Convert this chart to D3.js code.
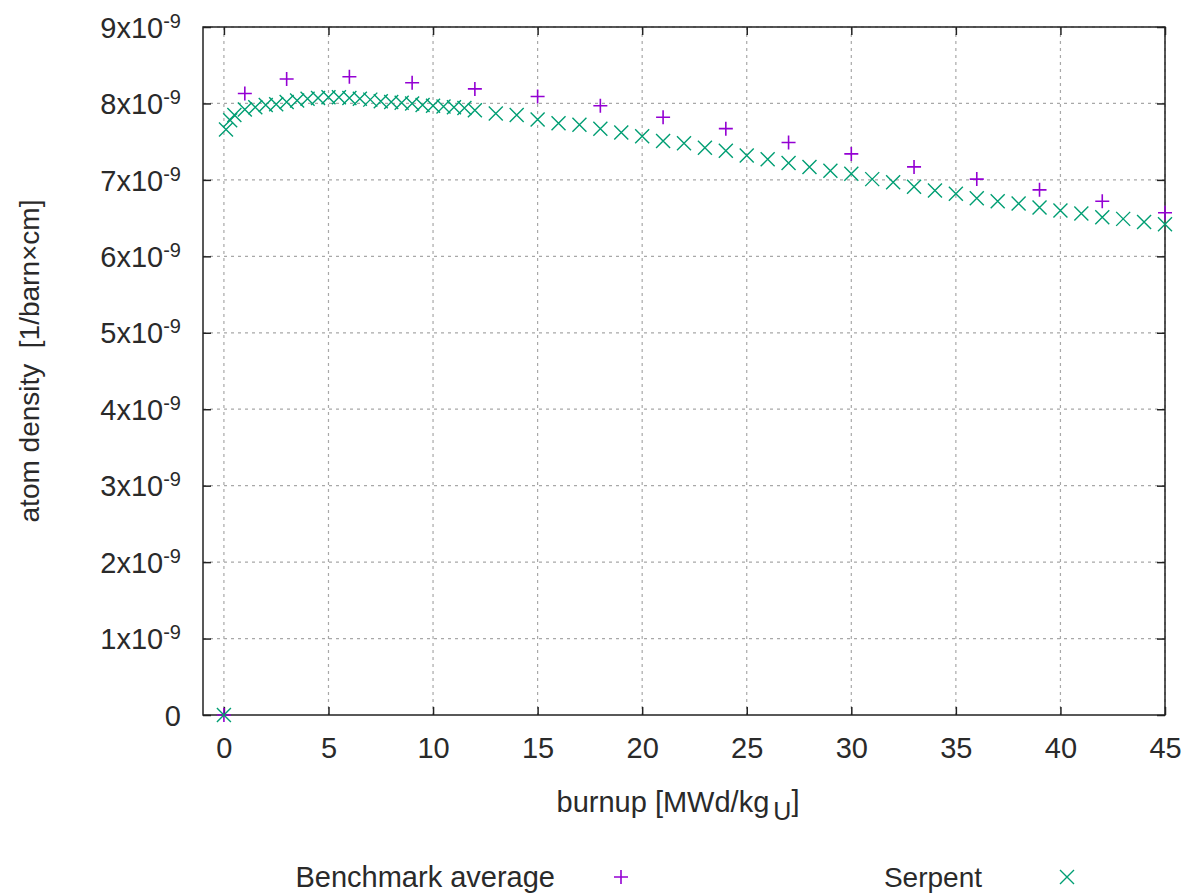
<!DOCTYPE html>
<html>
<head>
<meta charset="utf-8">
<script src="https://cdn.jsdelivr.net/npm/d3@7/dist/d3.min.js"></script>
<style>
  body { margin: 0; background: #fff; }
  text { font-family: "Liberation Sans", Arial, sans-serif; fill: #2a2a2a; }
</style>
</head>
<body>
<div id="chart"></div>
<script>
// benchmark average (x in MWd/kgU, y in 1e-9 1/barn cm)
var benchX = [0, 1, 3, 6, 9, 12, 15, 18, 21, 24, 27, 30, 33, 36, 39, 42, 45];
var benchY = [0, 8.13, 8.32, 8.35, 8.27, 8.19, 8.09, 7.97, 7.82, 7.67, 7.49, 7.34, 7.17, 7.01, 6.87, 6.72, 6.57];

// serpent
var serpX = [0, 0.1, 0.3, 0.5, 1, 1.5, 2, 2.5, 3, 3.5, 4, 4.5, 5, 5.5, 6, 6.5, 7, 7.5, 8, 8.5,
  9, 9.5, 10, 10.5, 11, 11.5, 12, 13, 14, 15, 16, 17, 18, 19, 20, 21, 22, 23, 24, 25, 26, 27,
  28, 29, 30, 31, 32, 33, 34, 35, 36, 37, 38, 39, 40, 41, 42, 43, 44, 45];
var serpY = [0, 7.66, 7.78, 7.85, 7.92, 7.95, 7.98, 7.99, 8.02, 8.04, 8.06, 8.07, 8.08, 8.08, 8.07, 8.06,
  8.05, 8.03, 8.02, 8.01, 8.00, 7.98, 7.97, 7.96, 7.95, 7.94, 7.91, 7.87, 7.85, 7.79, 7.74, 7.72,
  7.67, 7.62, 7.57, 7.51, 7.48, 7.42, 7.38, 7.32, 7.27, 7.22, 7.17, 7.12, 7.08, 7.01, 6.97, 6.91,
  6.86, 6.82, 6.76, 6.72, 6.69, 6.64, 6.60, 6.56, 6.51, 6.49, 6.45, 6.42];

var xTicks = [0, 5, 10, 15, 20, 25, 30, 35, 40, 45];
var yTicks = [0, 1, 2, 3, 4, 5, 6, 7, 8, 9];

var W = 1183, H = 894;
var mLeft = 203, mRight = 1165, mTop = 27, mBottom = 715;
var fs = "29px";

var x = d3.scaleLinear().domain([-1, 45]).range([mLeft, mRight]);
var y = d3.scaleLinear().domain([0, 9]).range([mBottom, mTop]);

var svg = d3.select("#chart").append("svg")
    .attr("width", W)
    .attr("height", H);

// grid
var grid = svg.append("g").attr("stroke", "#a8a8a8").attr("stroke-dasharray", "3,4").attr("stroke-width", 1.2);
xTicks.forEach(function(t) {
  grid.append("line").attr("x1", x(t)).attr("x2", x(t)).attr("y1", mTop).attr("y2", mBottom);
});
yTicks.slice(1).forEach(function(t) {
  grid.append("line").attr("x1", mLeft).attr("x2", mRight).attr("y1", y(t)).attr("y2", y(t));
});

// axes (inward ticks on all sides)
svg.append("g")
    .attr("transform", "translate(0," + mBottom + ")")
    .call(d3.axisBottom(x).tickValues(xTicks).tickSize(-8).tickPadding(22))
    .call(function(g) { g.select(".domain").remove(); });
svg.append("g")
    .attr("transform", "translate(0," + mTop + ")")
    .call(d3.axisTop(x).tickValues(xTicks).tickSize(-8).tickFormat(""))
    .call(function(g) { g.select(".domain").remove(); });
var yAxis = svg.append("g")
    .attr("transform", "translate(" + mLeft + ",0)")
    .call(d3.axisLeft(y).tickValues(yTicks).tickSize(-8).tickFormat(""))
    .call(function(g) { g.select(".domain").remove(); });
svg.append("g")
    .attr("transform", "translate(" + mRight + ",0)")
    .call(d3.axisRight(y).tickValues(yTicks).tickSize(-8).tickFormat(""))
    .call(function(g) { g.select(".domain").remove(); });

svg.selectAll(".tick line").attr("stroke", "#222").attr("stroke-width", 1.5);
svg.selectAll(".tick text").style("font-size", fs).attr("fill", "#2a2a2a")
    .style("font-family", "'Liberation Sans', Arial, sans-serif");

// y tick labels with superscript exponent
yAxis.selectAll(".tick").each(function(d) {
  var t = d3.select(this).select("text")
      .attr("x", -22).attr("dy", "0.35em").attr("text-anchor", "end");
  if (d === 0) { t.text("0"); return; }
  t.text(d + "x10");
  t.append("tspan").attr("dy", "-0.5em").style("font-size", "20px").text("-9");
});

// frame
svg.append("rect")
    .attr("x", mLeft).attr("y", mTop)
    .attr("width", mRight - mLeft).attr("height", mBottom - mTop)
    .attr("fill", "none").attr("stroke", "#222").attr("stroke-width", 1.5);

var purple = "#9400d3", green = "#009e73";
var s = 7;

function plus(g, cx, cy, col) {
  g.append("path").attr("d", "M" + (cx - s) + "," + cy + "h" + (2 * s) + "M" + cx + "," + (cy - s) + "v" + (2 * s))
    .attr("stroke", col).attr("stroke-width", 1.6).attr("fill", "none");
}
function cross(g, cx, cy, col) {
  g.append("path").attr("d", "M" + (cx - s) + "," + (cy - s) + "l" + (2 * s) + "," + (2 * s) +
      "M" + (cx - s) + "," + (cy + s) + "l" + (2 * s) + "," + (-2 * s))
    .attr("stroke", col).attr("stroke-width", 1.4).attr("fill", "none");
}

var marks = svg.append("g");
benchX.forEach(function(v, i) { plus(marks, x(v), y(benchY[i]), purple); });
serpX.forEach(function(v, i) { cross(marks, x(v), y(serpY[i]), green); });

// axis labels
var xl = svg.append("text")
    .attr("x", 678).attr("y", 812)
    .attr("text-anchor", "middle").style("font-size", fs)
    .text("burnup [MWd/kg");
xl.append("tspan").attr("dy", "0.3em").attr("dx", "4").style("font-size", "25px").text("U");
xl.append("tspan").attr("dy", "-0.3em").text("]");

svg.append("text")
    .attr("transform", "translate(39,361) rotate(-90)")
    .attr("text-anchor", "middle").style("font-size", "28px")
    .attr("xml:space", "preserve")
    .text("atom density  [1/barn\u00d7cm]");

// legend
svg.append("text").attr("x", 555).attr("y", 887).attr("text-anchor", "end")
    .style("font-size", fs).text("Benchmark average");
plus(svg, 621, 877, purple);
svg.append("text").attr("x", 982).attr("y", 887).attr("text-anchor", "end")
    .style("font-size", "28px").text("Serpent");
cross(svg, 1067, 877, green);
</script>
</body>
</html>
